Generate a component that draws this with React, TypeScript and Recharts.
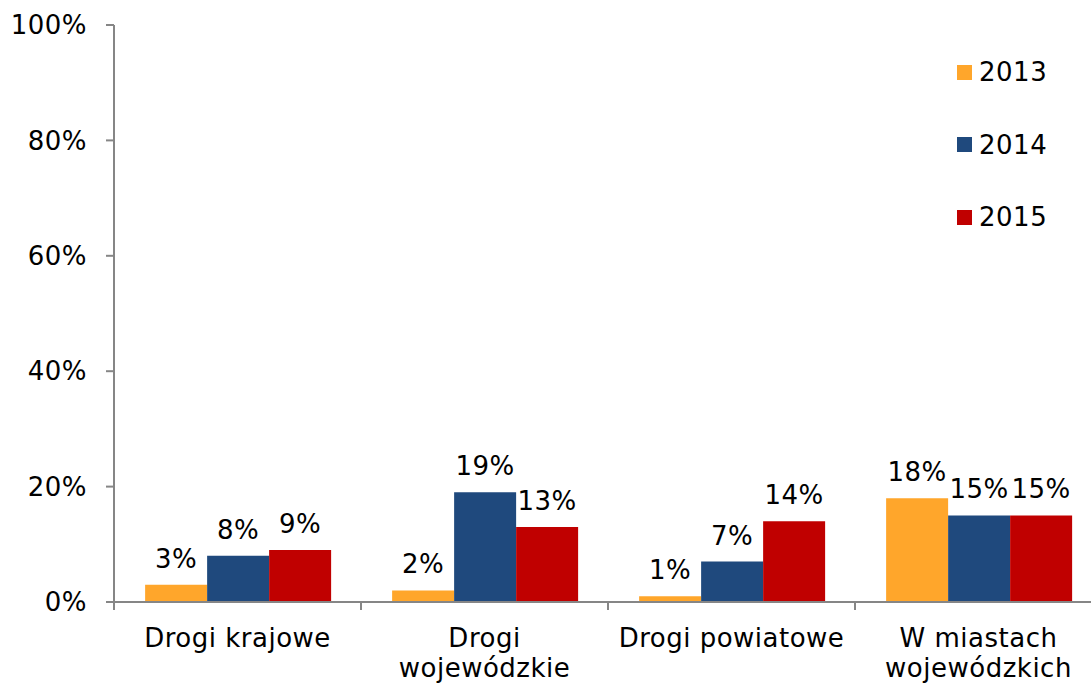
import React from 'react';
import { BarChart, Bar, XAxis, YAxis, Legend, LabelList } from 'recharts';

const categories = ['Drogi krajowe', 'Drogi\nwojewódzkie', 'Drogi powiatowe', 'W miastach\nwojewódzkich'];
const seriesNames = ['2013', '2014', '2015'];
const values2013 = [3, 2, 1, 18];
const values2014 = [8, 19, 7, 15];
const values2015 = [9, 13, 14, 15];
const yTicks = [0, 20, 40, 60, 80, 100];
const colors = ['#FFA62B', '#1F497D', '#C00000'];

const data = categories.map((c, i) => ({
  name: c,
  [seriesNames[0]]: values2013[i],
  [seriesNames[1]]: values2014[i],
  [seriesNames[2]]: values2015[i],
}));

const W = 1110;
const H = 700;
const M = { top: 25, right: 8, bottom: 0, left: 0 };
const Y_W = 114;
const X_H = 98;
const FONT = 'DejaVu Sans, Verdana, sans-serif';
const AXIS = '#868686';
const LS = 0.5;
const band = (W - M.left - M.right - Y_W) / categories.length;

const XTick = (props: any) => {
  const { x, y, payload, index } = props;
  const lines = String(payload.value).split('\n');
  return (
    <g>
      <line x1={x - band / 2} x2={x - band / 2} y1={y} y2={y + 8} stroke={AXIS} strokeWidth={2} />
      {index === categories.length - 1 && (
        <line x1={x + band / 2} x2={x + band / 2} y1={y} y2={y + 8} stroke={AXIS} strokeWidth={2} />
      )}
      <text x={x} y={y + 45} textAnchor="middle" fill="#000" fontSize={26} fontFamily={FONT} letterSpacing={LS}>
        {lines.map((l, i) => (
          <tspan key={i} x={x} dy={i === 0 ? 0 : 30}>{l}</tspan>
        ))}
      </text>
    </g>
  );
};

const LegendContent = (props: any) => {
  const { payload } = props;
  return (
    <div style={{ fontFamily: FONT, fontSize: 26, color: '#000', letterSpacing: LS }}>
      {(payload || []).map((p: any) => (
        <div key={p.value} style={{ height: 72.5, display: 'flex', alignItems: 'center' }}>
          <div style={{ width: 15, height: 15, background: p.color, marginRight: 7 }} />
          <span style={{ lineHeight: '30px' }}>{p.value}</span>
        </div>
      ))}
    </div>
  );
};

export default function App() {
  return (
    <div style={{ position: 'fixed', left: 0, top: 0, width: 1091, height: 684, overflow: 'hidden', background: '#fff' }}>
      <BarChart width={W} height={H} data={data} margin={M} barCategoryGap="12.6%" barGap={0}>
        <XAxis
          dataKey="name"
          height={X_H}
          interval={0}
          tickLine={false}
          tickSize={0}
          tickMargin={0}
          axisLine={{ stroke: AXIS, strokeWidth: 2 }}
          tick={<XTick />}
        />
        <YAxis
          width={Y_W}
          domain={[0, 100]}
          ticks={yTicks}
          interval={0}
          tickFormatter={(v: number) => `${v}%`}
          tickSize={8}
          tickMargin={19}
          axisLine={{ stroke: AXIS, strokeWidth: 2 }}
          tickLine={{ stroke: AXIS, strokeWidth: 2 }}
          tick={{ fill: '#000', fontSize: 26, fontFamily: FONT, letterSpacing: LS }}
        />
        <Legend
          layout="vertical"
          align="center"
          verticalAlign="middle"
          wrapperStyle={{ left: 957, top: 36, width: 130 }}
          content={<LegendContent />}
        />
        {seriesNames.map((s, i) => (
          <Bar key={s} dataKey={s} fill={colors[i]} isAnimationActive={false}>
            <LabelList
              dataKey={s}
              position="top"
              offset={17}
              formatter={(v: any) => `${v}%`}
              fill="#000"
              fontSize={26}
              fontFamily={FONT}
              letterSpacing={LS}
            />
          </Bar>
        ))}
      </BarChart>
    </div>
  );
}
